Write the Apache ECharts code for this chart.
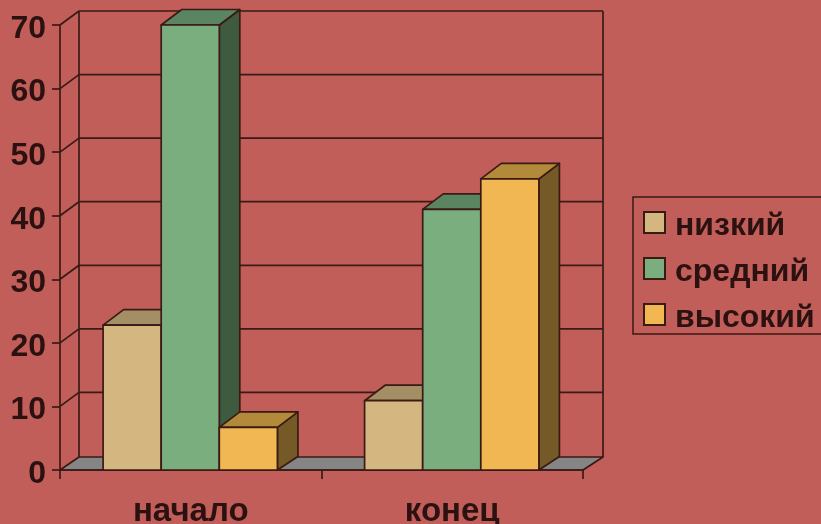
<!DOCTYPE html>
<html><head><meta charset="utf-8">
<style>html,body{margin:0;padding:0;background:#C15E59}#c{width:821px;height:524px}</style>
<script src="https://cdn.jsdelivr.net/npm/echarts@6/dist/echarts.min.js"></script>
</head><body><div id="c"></div>
<script>
const categories = ['начало', 'конец'];
const low = [22.8, 10.9];
const mid = [70, 41];
const high = [6.7, 45.8];
const yTicks = [0, 10, 20, 30, 40, 50, 60, 70];
const names = ['низкий', 'средний', 'высокий'];

const ink = '#3A1A14', txt = '#2B1210', bg = '#C15E59';
const faces = [
  {front:'#D4B681', top:'#A38E66', side:'#7F6D4C'},
  {front:'#7BAE7F', top:'#5B8560', side:'#3E5B40'},
  {front:'#F0B752', top:'#B38A3A', side:'#755A28'}
];
const lw = 1.7;

function poly(points, fill) {
  return {type:'polygon', shape:{points}, style:{fill, stroke:ink, lineWidth:lw, lineJoin:'round'}};
}
function seg(x1,y1,x2,y2) {
  return {type:'line', shape:{x1,y1,x2,y2}, style:{stroke:ink, lineWidth:lw, fill:null}};
}
function wallItem(params, api) {
  const cs = params.coordSys;
  const v = api.value(0);
  const y = api.coord([0, v])[1];
  const x0 = cs.x, x1 = cs.x + cs.width;
  const children = [];
  const bx0 = x0 + 19, bx1 = x1 + 20;
  const by = y - (v === 0 ? 13 : 14);
  if (v === 0) {
    children.push(poly([[x0,y],[x1,y],[bx1,by],[bx0,by]], '#858585'));
    const top = cs.y - 14;
    children.push(seg(bx0,by,bx0,top));
    children.push(seg(bx1,by,bx1,top));
  } else {
    children.push(seg(x0,y,bx0,by));
    children.push(seg(bx0,by,bx1,by));
  }
  return {type:'group', children};
}
function barRender(idx) {
  return function(params, api) {
    const cat = api.value(0), val = api.value(1);
    const c = api.coord([cat, val]);
    const base = api.coord([cat, 0])[1];
    const w = api.size([1, 0])[0] * 0.2222;
    const cx = c[0] - 0.5;
    const l = cx + (idx - 1.5) * w, r = l + w;
    const t = c[1];
    const dx = 20.5, dyT = 15.5, dyB = 13.5;
    const f = faces[idx];
    return {type:'group', children:[
      poly([[r,t],[r+dx,t-dyT],[r+dx,base-dyB],[r,base]], f.side),
      poly([[l,t],[l+dx,t-dyT],[r+dx,t-dyT],[r,t]], f.top),
      poly([[l,t],[r,t],[r,base],[l,base]], f.front)
    ]};
  };
}
function barSeries(name, values, idx) {
  return {
    name, type:'custom', coordinateSystem:'cartesian2d', z:3,
    renderItem: barRender(idx),
    encode:{x:0, y:1},
    itemStyle:{color:faces[idx].front, borderColor:ink, borderWidth:1.5},
    data: values.map((v,i)=>[i,v])
  };
}
const boldFont = {fontFamily:'"Liberation Sans"', fontWeight:'bold', color:txt};
const chart = echarts.init(document.getElementById('c'), null, {renderer:'canvas'});
chart.setOption({
  animation:false,
  backgroundColor:bg,
  textStyle:{fontFamily:'"Liberation Sans"'},
  grid:{left:60, right:238, top:25, bottom:54, containLabel:false, outerBoundsMode:'none'},
  legend:{
    orient:'vertical', left:633, top:197,
    data:names, icon:'rect',
    itemWidth:21, itemHeight:21, itemGap:14, selectedMode:false,
    padding:[13,30,0,10],
    borderColor:ink, borderWidth:1.5,
    formatter: n => '{a|' + n + '}',
    textStyle:{...boldFont, fontSize:32, rich:{a:{...boldFont, fontSize:32, padding:[7,0,0,5]}}}
  },
  xAxis:{
    type:'category', data:categories,
    axisLine:{lineStyle:{color:ink,width:1.7}},
    axisTick:{show:true, length:9, lineStyle:{color:ink,width:1.7}},
    axisLabel:{...boldFont, fontSize:33, margin:25},
    z:1
  },
  yAxis:{
    type:'value', min:0, max:70, interval:10,
    axisLine:{show:true, lineStyle:{color:ink,width:1.7}},
    axisTick:{show:true, length:8, lineStyle:{color:ink,width:1.7}},
    splitLine:{show:false},
    axisLabel:{...boldFont, fontSize:32, margin:14, formatter:'{a|{value}}',
      rich:{a:{...boldFont, fontSize:32, padding:[8,0,0,0]}}},
    z:1
  },
  series:[
    {name:'стена', type:'custom', coordinateSystem:'cartesian2d', z:1, renderItem:wallItem,
     encode:{y:0}, data:yTicks.map(v=>[v]), silent:true},
    barSeries(names[0], low, 0),
    barSeries(names[1], mid, 1),
    barSeries(names[2], high, 2)
  ]
});
</script></body></html>
